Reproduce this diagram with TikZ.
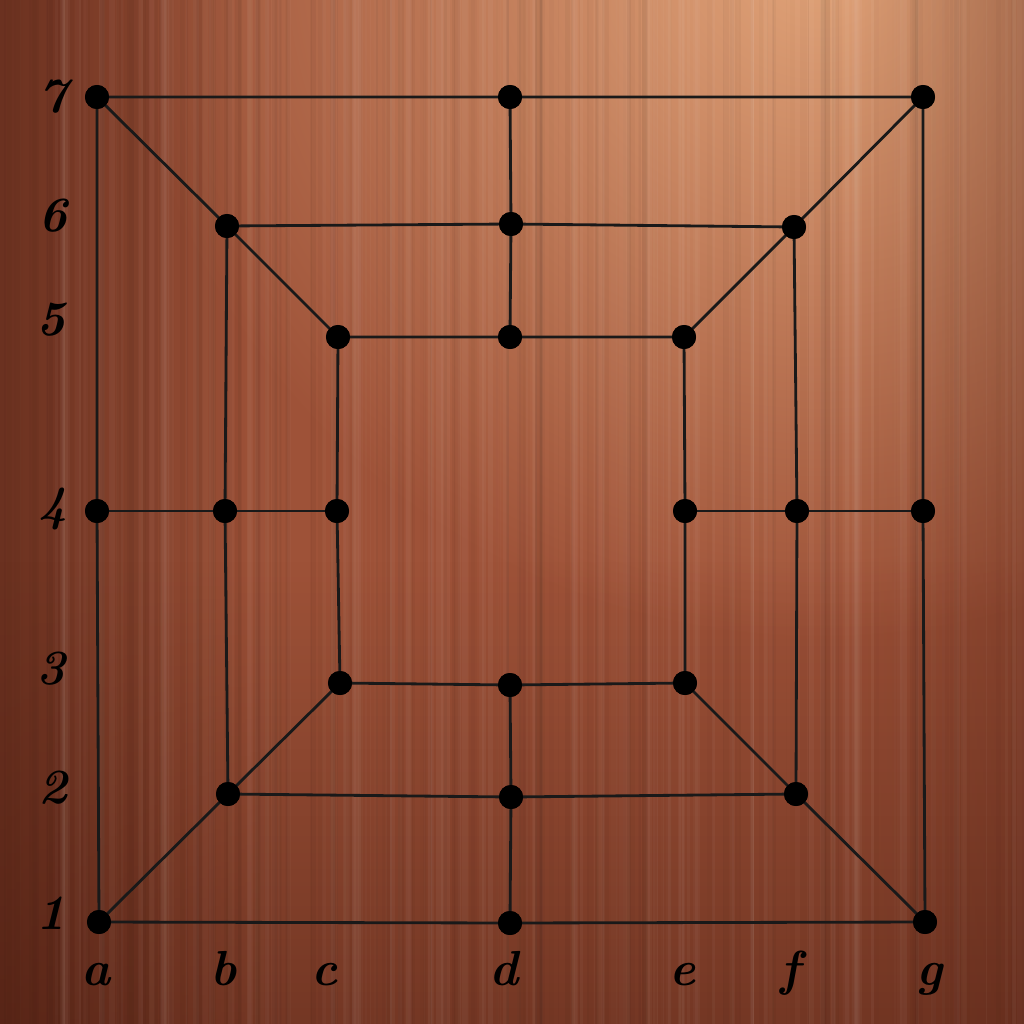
\documentclass[tikz,border=0pt]{standalone}
\usetikzlibrary{fadings}
\definecolor{woodmid}{RGB}{158,82,56}
\definecolor{woodlight}{RGB}{226,165,122}
\definecolor{wooddark}{RGB}{65,22,12}
\tikzset{
  pt/.style={circle,fill=black,inner sep=0pt,minimum size=2.4mm},
  ln/.style={draw=black!90,line width=0.8pt},
  lbl/.style={font=\fontsize{14}{16}\selectfont\bfseries\itshape,text=black,inner sep=0pt,anchor=base}
}
\begin{document}
\begin{tikzpicture}[x=0.01cm,y=-0.01cm]
\useasboundingbox (0,0) rectangle (1024,1024);
% wood background
\begin{scope}
\clip (0,0) rectangle (1024,1024);
\fill[woodmid] (0,0) rectangle (1024,1024);
\shade[inner color=woodlight,outer color=woodmid] (820,-60) circle (700);
\fill[wooddark,path fading=east,opacity=0.55] (0,0) rectangle (260,1024);
\fill[wooddark,path fading=north,opacity=0.45] (0,560) rectangle (1024,1024);
\fill[wooddark,path fading=west,opacity=0.25] (850,0) rectangle (1024,1024);
\pgfmathsetseed{7}
\foreach \i in {1,...,300}{
  \pgfmathsetmacro\xx{rnd*1024}
  \pgfmathsetmacro\ww{1+rnd*6}
  \pgfmathsetmacro\oo{0.01+rnd*0.035}
  \pgfmathsetmacro\cc{rnd}
  \ifdim\cc pt<0.5pt
    \fill[white,opacity=\oo] (\xx,0) rectangle ++(\ww,1024);
  \else
    \fill[black,opacity=\oo] (\xx,0) rectangle ++(\ww,1024);
  \fi
}
\end{scope}
% points
\node[pt] (a1) at (99,922) {};
\node[pt] (d1) at (510,923) {};
\node[pt] (g1) at (925,922) {};
\node[pt] (b2) at (228,794) {};
\node[pt] (d2) at (511,797) {};
\node[pt] (f2) at (796,794) {};
\node[pt] (c3) at (340,683) {};
\node[pt] (d3) at (510,685) {};
\node[pt] (e3) at (685,683) {};
\node[pt] (a4) at (97,511) {};
\node[pt] (b4) at (225,511) {};
\node[pt] (c4) at (337,511) {};
\node[pt] (e4) at (685,511) {};
\node[pt] (f4) at (797,511) {};
\node[pt] (g4) at (923,511) {};
\node[pt] (c5) at (338,337) {};
\node[pt] (d5) at (510,337) {};
\node[pt] (e5) at (684,337) {};
\node[pt] (b6) at (227,226) {};
\node[pt] (d6) at (511,224) {};
\node[pt] (f6) at (794,227) {};
\node[pt] (a7) at (97,97) {};
\node[pt] (d7) at (510,97) {};
\node[pt] (g7) at (923,97) {};
% lines
\draw[ln] (a7.center) -- (d7.center) -- (g7.center) -- (g4.center) -- (g1.center) -- (d1.center) -- (a1.center) -- (a4.center) -- cycle;
\draw[ln] (b6.center) -- (d6.center) -- (f6.center) -- (f4.center) -- (f2.center) -- (d2.center) -- (b2.center) -- (b4.center) -- cycle;
\draw[ln] (c5.center) -- (d5.center) -- (e5.center) -- (e4.center) -- (e3.center) -- (d3.center) -- (c3.center) -- (c4.center) -- cycle;
\draw[ln] (a4.center) -- (b4.center) -- (c4.center);
\draw[ln] (e4.center) -- (f4.center) -- (g4.center);
\draw[ln] (d7.center) -- (d6.center) -- (d5.center);
\draw[ln] (d3.center) -- (d2.center) -- (d1.center);
\draw[ln] (a7.center) -- (b6.center) -- (c5.center);
\draw[ln] (g7.center) -- (f6.center) -- (e5.center);
\draw[ln] (a1.center) -- (b2.center) -- (c3.center);
\draw[ln] (g1.center) -- (f2.center) -- (e3.center);
% dots on top
\foreach \p in {a1,d1,g1,b2,d2,f2,c3,d3,e3,a4,b4,c4,e4,f4,g4,c5,d5,e5,b6,d6,f6,a7,d7,g7}
  \fill[black] (\p) circle (12);
% labels
\node[lbl] (r7) at (53,112) {7};
\node[lbl] (r6) at (53,231) {6};
\node[lbl] (r5) at (51,335) {5};
\node[lbl] (r4) at (53,520) {4};
\node[lbl] (r3) at (51,684) {3};
\node[lbl] (r2) at (53,803) {2};
\node[lbl] (r1) at (51,929) {1};
\node[lbl] (ca) at (96,985) {a};
\node[lbl] (cb) at (224,985) {b};
\node[lbl] (cc) at (325,985) {c};
\node[lbl] (cd) at (504,985) {d};
\node[lbl] (ce) at (683,985) {e};
\node[lbl] (cf) at (790,985) {f};
\node[lbl] (cg) at (930,985) {g};
\end{tikzpicture}
\end{document}
